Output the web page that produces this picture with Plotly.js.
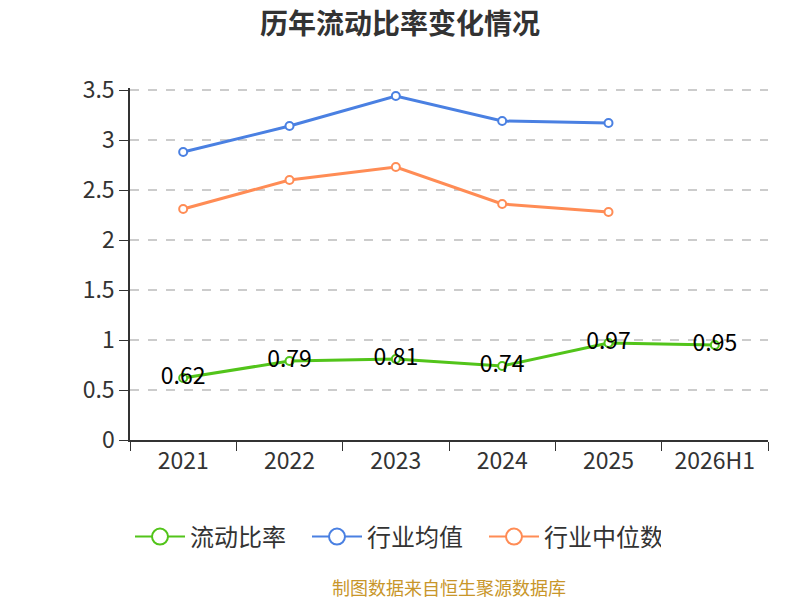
<!DOCTYPE html>
<html>
<head>
<meta charset="utf-8">
<script src="https://cdn.plot.ly/plotly-3.0.1.min.js"></script>
<style>body{margin:0;} #chart{width:800px;height:600px;}</style>
</head>
<body>
<div id="chart"></div>
<script>
// 历年流动比率
var years = ['2021', '2022', '2023', '2024', '2025', '2026H1'];
var ratio = [0.62, 0.79, 0.81, 0.74, 0.97, 0.95];
var industryAvg = [2.88, 3.14, 3.44, 3.19, 3.17];
var industryMedian = [2.31, 2.60, 2.73, 2.36, 2.28];

var names = ['流动比率', '行业均值', '行业中位数'];
var colors = ['#52c41a', '#4a80e2', '#ff8c55'];

var font = '"Noto Sans CJK SC", "Noto Sans", sans-serif';

function lineTrace(y, i) {
  return {
    x: years.slice(0, y.length),
    y: y,
    name: names[i],
    legendgroup: names[i],
    showlegend: false,
    type: 'scatter',
    mode: 'lines+markers',
    line: {color: colors[i], width: 3},
    marker: {symbol: 'circle', size: 8, color: '#ffffff', line: {color: colors[i], width: 2}}
  };
}

// legend only entries, with the bigger circle of the original legend
function legendTrace(i) {
  return {
    x: [null],
    y: [null],
    name: names[i],
    legendgroup: names[i],
    type: 'scatter',
    mode: 'lines+markers',
    line: {color: colors[i], width: 2},
    marker: {symbol: 'circle', size: 18, color: '#ffffff', line: {color: colors[i], width: 2}}
  };
}

var trace_ratio = lineTrace(ratio, 0);
trace_ratio.mode = 'lines+markers+text';
trace_ratio.text = ratio.map(function (v) { return v.toFixed(2); });
trace_ratio.textposition = 'middle center';
trace_ratio.textfont = {family: font, size: 23, color: '#000000'};

var data = [
  trace_ratio,
  lineTrace(industryAvg, 1),
  lineTrace(industryMedian, 2),
  legendTrace(0), legendTrace(1), legendTrace(2)
];

var layout = {
  width: 800,
  height: 600,
  margin: {l: 130, r: 32, t: 88, b: 160},
  paper_bgcolor: '#ffffff',
  plot_bgcolor: '#ffffff',
  font: {family: font, color: '#333333'},
  title: {
    text: '<b>历年流动比率变化情况</b>',
    font: {family: font, size: 28, color: '#333333'},
    x: 0.5, xanchor: 'center',
    y: 0.96, yref: 'container', yanchor: 'middle'
  },
  xaxis: {
    type: 'category',
    range: [-0.5, 5.5],
    tickson: 'boundaries',
    ticks: 'outside',
    ticklen: 9,
    tickcolor: '#333333',
    showline: true,
    linecolor: '#333333',
    linewidth: 1.5,
    showgrid: false,
    tickfont: {family: font, size: 23, color: '#333333'}
  },
  yaxis: {
    range: [0, 3.52],
    tickvals: [0, 0.5, 1, 1.5, 2, 2.5, 3, 3.5],
    ticktext: ['0', '0.5', '1', '1.5', '2', '2.5', '3', '3.5'],
    ticks: 'outside',
    ticklen: 9,
    tickcolor: '#333333',
    showline: true,
    linecolor: '#333333',
    linewidth: 1.5,
    gridcolor: '#cccccc',
    griddash: 'dash',
    gridwidth: 1.5,
    zeroline: false,
    tickfont: {family: font, size: 23, color: '#333333'}
  },
  showlegend: true,
  legend: {
    orientation: 'h',
    x: 0, xanchor: 'left',
    y: -0.2756, yanchor: 'middle',
    font: {family: font, size: 24, color: '#333333'},
    itemsizing: 'trace',
    itemwidth: 50,
    entrywidth: 112
  },
  annotations: [{
    text: '制图数据来自恒生聚源数据库',
    xref: 'paper', yref: 'paper',
    x: 0.5, xanchor: 'center',
    y: -0.418, yanchor: 'middle',
    showarrow: false,
    font: {family: font, size: 18, color: '#c8962a'}
  }]
};

Plotly.newPlot('chart', data, layout, {displayModeBar: false});
</script>
</body>
</html>
